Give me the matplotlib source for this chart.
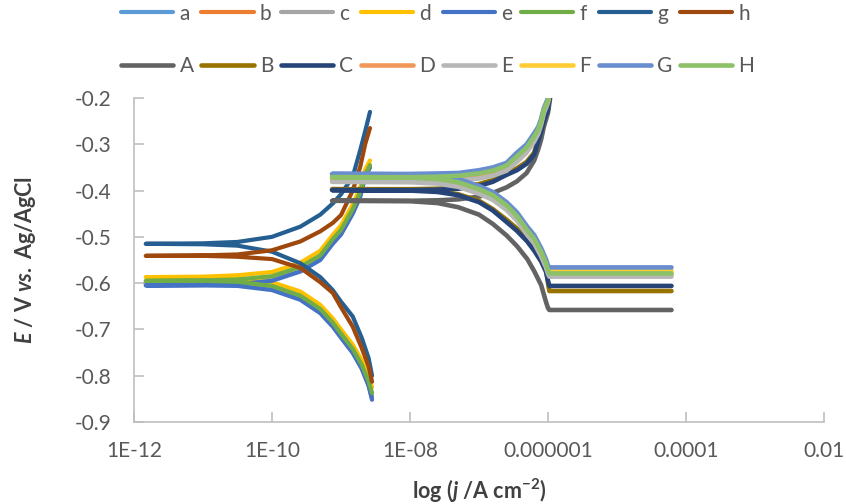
import matplotlib
matplotlib.use('Agg')
import matplotlib.pyplot as plt
import numpy as np

plt.rcParams['font.family'] = ['Lato', 'DejaVu Sans']
plt.rcParams['axes.unicode_minus'] = False
plt.rcParams['mathtext.fontset'] = 'custom'
plt.rcParams['mathtext.rm'] = 'Lato:bold'
plt.rcParams['mathtext.it'] = 'Lato:italic:bold'
plt.rcParams['mathtext.bf'] = 'Lato:bold'

# --- data ----------------------------------------------------------------
# series a-h : log10(j) path, bottom tip -> left -> top tip
logj_low = [-8.55, -8.6, -8.7, -8.83, -9.0, -9.12, -9.3, -9.59, -10.0, -10.5, -11.0, -11.83,
            -11.0, -10.5, -10.0, -9.59, -9.3, -9.12, -9.0, -8.83, -8.72, -8.65, -8.58]

E_a = [-0.845, -0.818, -0.781, -0.747, -0.714, -0.690, -0.661, -0.632, -0.611, -0.602, -0.600, -0.600,
       -0.599, -0.597, -0.590, -0.570, -0.545, -0.510, -0.490, -0.445, -0.408, -0.368, -0.348]
E_b = [-0.850, -0.820, -0.783, -0.749, -0.716, -0.692, -0.663, -0.634, -0.613, -0.604, -0.603, -0.603,
       -0.602, -0.600, -0.593, -0.573, -0.548, -0.513, -0.493, -0.448, -0.410, -0.370, -0.348]
E_c = [-0.840, -0.815, -0.779, -0.745, -0.712, -0.688, -0.659, -0.630, -0.609, -0.600, -0.598, -0.598,
       -0.597, -0.595, -0.588, -0.568, -0.543, -0.508, -0.488, -0.443, -0.406, -0.366, -0.346]
E_d = [-0.825, -0.800, -0.766, -0.733, -0.700, -0.676, -0.647, -0.618, -0.598, -0.589, -0.587, -0.587,
       -0.586, -0.583, -0.576, -0.556, -0.530, -0.496, -0.475, -0.430, -0.393, -0.355, -0.335]
E_e = [-0.852, -0.822, -0.785, -0.751, -0.718, -0.694, -0.665, -0.636, -0.615, -0.606, -0.605, -0.605,
       -0.604, -0.602, -0.595, -0.575, -0.550, -0.515, -0.495, -0.450, -0.413, -0.370, -0.350]
E_f = [-0.837, -0.812, -0.776, -0.742, -0.709, -0.685, -0.656, -0.627, -0.606, -0.597, -0.595, -0.595,
       -0.594, -0.592, -0.585, -0.565, -0.540, -0.505, -0.485, -0.440, -0.403, -0.365, -0.345]
E_g = [-0.800, -0.762, -0.718, -0.672, -0.640, -0.615, -0.587, -0.557, -0.532, -0.519, -0.516, -0.515,
       -0.514, -0.511, -0.500, -0.478, -0.452, -0.428, -0.408, -0.370, -0.312, -0.272, -0.230]
E_h = [-0.813, -0.780, -0.740, -0.694, -0.652, -0.621, -0.598, -0.567, -0.548, -0.543, -0.541, -0.541,
       -0.540, -0.538, -0.529, -0.510, -0.488, -0.470, -0.453, -0.400, -0.348, -0.300, -0.265]

# series A-H : log10(j) path, top -> anodic branch -> left -> cathodic branch -> plateau
logj_up = [-5.95, -6.0, -6.06, -6.1, -6.14, -6.2, -6.31, -6.45, -6.6, -6.8, -7.0, -7.3, -7.6, -8.0, -9.13,
           -8.0, -7.6, -7.3, -7.0, -6.8, -6.6, -6.45, -6.3, -6.2, -6.1, -6.03, -6.0, -5.98, -4.21]

E_A = [-0.18, -0.232, -0.262, -0.290, -0.310, -0.335, -0.362, -0.380, -0.393, -0.405, -0.413, -0.419, -0.421, -0.422, -0.422,
       -0.423, -0.427, -0.436, -0.452, -0.472, -0.497, -0.520, -0.548, -0.574, -0.604, -0.640, -0.654, -0.658, -0.658]
E_B = [-0.17, -0.220, -0.245, -0.268, -0.288, -0.318, -0.338, -0.352, -0.362, -0.377, -0.386, -0.393, -0.396, -0.397, -0.397,
       -0.398, -0.401, -0.408, -0.422, -0.440, -0.463, -0.482, -0.504, -0.523, -0.545, -0.567, -0.600, -0.617, -0.617]
E_C = [-0.17, -0.225, -0.250, -0.272, -0.292, -0.322, -0.342, -0.356, -0.366, -0.381, -0.390, -0.396, -0.398, -0.399, -0.399,
       -0.400, -0.403, -0.410, -0.425, -0.443, -0.468, -0.487, -0.510, -0.530, -0.553, -0.575, -0.595, -0.606, -0.606]
E_D = [-0.16, -0.207, -0.229, -0.253, -0.271, -0.287, -0.311, -0.330, -0.350, -0.361, -0.367, -0.372, -0.374, -0.375, -0.375,
       -0.376, -0.379, -0.386, -0.401, -0.414, -0.436, -0.459, -0.490, -0.508, -0.536, -0.560, -0.576, -0.581, -0.581]
E_E = [-0.16, -0.210, -0.233, -0.258, -0.277, -0.294, -0.318, -0.338, -0.357, -0.368, -0.374, -0.378, -0.380, -0.381, -0.381,
       -0.382, -0.385, -0.392, -0.407, -0.420, -0.442, -0.465, -0.496, -0.514, -0.542, -0.566, -0.580, -0.586, -0.586]
E_F = [-0.16, -0.203, -0.224, -0.248, -0.265, -0.280, -0.304, -0.322, -0.343, -0.354, -0.360, -0.365, -0.367, -0.368, -0.368,
       -0.369, -0.372, -0.379, -0.394, -0.407, -0.429, -0.452, -0.483, -0.501, -0.529, -0.553, -0.568, -0.573, -0.573]
E_G = [-0.16, -0.200, -0.222, -0.245, -0.262, -0.276, -0.300, -0.318, -0.340, -0.350, -0.356, -0.362, -0.363, -0.364, -0.364,
       -0.365, -0.368, -0.375, -0.390, -0.403, -0.425, -0.447, -0.478, -0.496, -0.524, -0.548, -0.562, -0.566, -0.566]
E_H = [-0.16, -0.205, -0.226, -0.250, -0.268, -0.283, -0.307, -0.326, -0.346, -0.357, -0.363, -0.368, -0.370, -0.371, -0.371,
       -0.372, -0.375, -0.382, -0.397, -0.410, -0.432, -0.455, -0.486, -0.504, -0.532, -0.556, -0.572, -0.579, -0.579]

labels_low = ['a', 'b', 'c', 'd', 'e', 'f', 'g', 'h']
labels_up = ['A', 'B', 'C', 'D', 'E', 'F', 'G', 'H']
series_low = [E_a, E_b, E_c, E_d, E_e, E_f, E_g, E_h]
series_up = [E_A, E_B, E_C, E_D, E_E, E_F, E_G, E_H]

xticks = [1e-12, 1e-10, 1e-8, 1e-6, 1e-4, 1e-2]
xticklabels = ['1E-12', '1E-10', '1E-08', '0.000001', '0.0001', '0.01']
yticks = [-0.9, -0.8, -0.7, -0.6, -0.5, -0.4, -0.3, -0.2]

colors_low = ['#5B9BD5', '#ED7D31', '#A5A5A5', '#FFC000', '#4472C4', '#70AD47', '#255E91', '#9E480E']
colors_up = ['#636363', '#997300', '#264478', '#F1975A', '#B7B7B7', '#FFCD33', '#698ED0', '#8CC168']

# --- plot -------------------------------------------------------------------
fig = plt.figure(figsize=(8.46, 5.04), dpi=100)
ax = fig.add_axes([134/846, 1-422/504, 690/846, 324/504])

j_low = 10**np.array(logj_low)
j_up = 10**np.array(logj_up)

lines_low = []
for lab, E, c in zip(labels_low, series_low, colors_low):
    l, = ax.plot(j_low, E, color=c, lw=3.0, solid_capstyle='round', solid_joinstyle='round', label=lab)
    lines_low.append(l)
lines_up = []
for lab, E, c in zip(labels_up, series_up, colors_up):
    l, = ax.plot(j_up, E, color=c, lw=3.3, solid_capstyle='round', solid_joinstyle='round', label=lab)
    lines_up.append(l)

ax.set_xscale('log')
ax.set_xlim(1e-12, 1e-2)
ax.set_ylim(-0.9, -0.2)
ax.set_xticks(xticks)
ax.set_xticklabels(xticklabels)
ax.minorticks_off()
ax.set_yticks(yticks)
ax.set_yticklabels(['%.1f' % v for v in yticks])

for s in ['top', 'right']:
    ax.spines[s].set_visible(False)
for s in ['left', 'bottom']:
    ax.spines[s].set_color('#BFBFBF')
    ax.spines[s].set_linewidth(1.2)
ax.tick_params(direction='in', length=7, width=1.2, color='#BFBFBF',
               labelcolor='#595959', labelsize=15)
ax.tick_params(axis='y', pad=16)
ax.tick_params(axis='x', pad=14)

ax.set_ylabel(r'$E$ / V $vs.$ Ag/AgCl', fontsize=15.5, fontweight='bold', color='#404040')
ax.set_xlabel(r'log ($j$ /A cm$^{-2}$)', fontsize=15.5, fontweight='bold', color='#404040')
ax.yaxis.set_label_coords(-0.139, 0.5)
ax.xaxis.set_label_coords(0.5, -0.17)

# legend: two rows, columns pair lower/upper case
handles = []
labs = []
for i in range(8):
    handles += [lines_low[i], lines_up[i]]
    labs += [labels_low[i], labels_up[i]]
leg = fig.legend(handles, labs, ncol=8, loc='upper center', bbox_to_anchor=(0.5175, 0.993),
                 frameon=False, fontsize=15, handlelength=2.5, handletextpad=0.3,
                 columnspacing=0.37, labelspacing=1.55, borderpad=0, borderaxespad=0)
for t in leg.get_texts():
    t.set_color('#595959')

fig.savefig('out.png', dpi=100)
